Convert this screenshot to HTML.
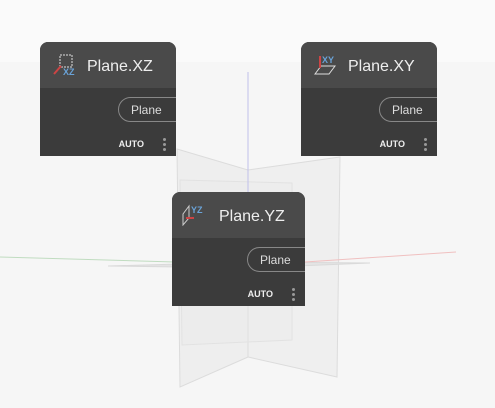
<!DOCTYPE html>
<html><head><style>
body{margin:0;width:495px;height:408px;overflow:hidden;background:#f6f6f6;font-family:"Liberation Sans",sans-serif;position:relative}
.top{position:absolute;left:0;top:0;width:495px;height:62px;background:#fafafa}
svg{position:absolute;left:0;top:0}
.node{position:absolute;background:#3b3b3b;border-radius:8px 8px 0 0;overflow:hidden}
.hd{height:46px;background:#4a4a4a;position:relative}
.ttl{position:absolute;left:47px;top:16px;color:#eee;font-size:16px}
.pill{position:absolute;right:-12px;top:55px;width:70px;height:25px;border:1px solid #888;border-radius:13px;color:#ddd;font-size:12px;line-height:25px;padding-left:12px;box-sizing:border-box}
.auto{position:absolute;right:32px;top:97px;color:#eee;font-size:9px;font-weight:bold}
.dots{position:absolute;right:10px;top:96px;width:3px}
.dots i{display:block;width:3px;height:3px;border-radius:2px;background:#999;margin-bottom:2px}
.ic{position:absolute;left:12px;top:10px;width:24px;height:24px}
</style></head><body>
<div class="top"></div>
<svg width="495" height="408">
<polygon points="177,149 248,170 248,357 180,387" fill="#e6e6e6" fill-opacity=".5" stroke="#dcdcdc"/>
<polygon points="248,170 340,157 337,377 248,357" fill="#e8e8e8" fill-opacity=".5" stroke="#dcdcdc"/>
<polygon points="180,180 292,183 292,340 182,345" fill="#e9e9e9" fill-opacity=".3" stroke="#e2e2e2"/>
<polygon points="108,266 248,262 370,263 248,268" fill="#e4e4e4" stroke="#dadada"/>
<line x1="248" y1="72" x2="248" y2="195" stroke="#c0c0ea" stroke-width="1"/>
<line x1="0" y1="257" x2="175" y2="262" stroke="#c0dcc0" stroke-width="1"/>
<line x1="305" y1="262" x2="456" y2="252" stroke="#f0c0c0" stroke-width="1"/>
</svg>
<div class="node" style="left:40px;top:42px;width:136px;height:114px">
 <div class="hd"><svg class="ic" viewBox="0 0 24 24"><rect x="8" y="3" width="12" height="12" fill="none" stroke="#ddd" stroke-dasharray="2 1"/><line x1="2" y1="22" x2="9" y2="14" stroke="#c44" stroke-width="2"/><text x="11" y="23" font-size="9" fill="#6aa3d8" font-family="Liberation Sans" font-weight="bold">XZ</text></svg><div class="ttl">Plane.XZ</div></div>
 <div class="pill">Plane</div><div class="auto">AUTO</div><div class="dots"><i></i><i></i><i></i></div>
</div>
<div class="node" style="left:301px;top:42px;width:136px;height:114px">
 <div class="hd"><svg class="ic" viewBox="0 0 24 24"><polygon points="2,22 8,14 22,14 16,22" fill="none" stroke="#ddd"/><line x1="7" y1="4" x2="7" y2="16" stroke="#c44" stroke-width="2"/><text x="9" y="11" font-size="9" fill="#6aa3d8" font-family="Liberation Sans" font-weight="bold">XY</text></svg><div class="ttl">Plane.XY</div></div>
 <div class="pill">Plane</div><div class="auto">AUTO</div><div class="dots"><i></i><i></i><i></i></div>
</div>
<div class="node" style="left:172px;top:192px;width:133px;height:114px">
 <div class="hd"><svg class="ic" style="left:8px" viewBox="0 0 24 24"><polygon points="3,12 9,4 9,16 3,23" fill="none" stroke="#ccc"/><line x1="6" y1="16" x2="14" y2="16" stroke="#c44" stroke-width="2"/><text x="11" y="11" font-size="9" fill="#6aa3d8" font-family="Liberation Sans" font-weight="bold">YZ</text></svg><div class="ttl">Plane.YZ</div></div>
 <div class="pill">Plane</div><div class="auto">AUTO</div><div class="dots"><i></i><i></i><i></i></div>
</div>
</body></html>
